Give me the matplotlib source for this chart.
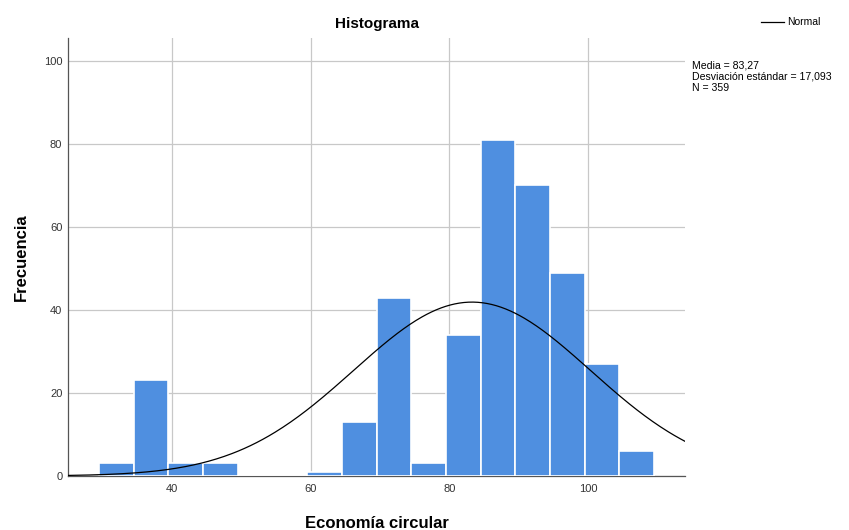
import numpy as np
import matplotlib
matplotlib.use("Agg")
import matplotlib.pyplot as plt

plt.rcParams['font.family'] = ['Liberation Sans', 'DejaVu Sans']

# bin edges (width 5) and counts
bordes = [29.5, 34.5, 39.5, 44.5, 49.5, 54.5, 59.5, 64.5, 69.5, 74.5, 79.5,
          84.5, 89.5, 94.5, 99.5, 104.5, 109.5]
frecuencias = [3, 23, 3, 3, 0, 0, 1, 13, 43, 3, 34, 81, 70, 49, 27, 6]
media = 83.27
desv = 17.093
n_total = 359
ancho = 5

fig = plt.figure(figsize=(8.49, 5.30), dpi=100)
ax = fig.add_axes([0.080, 0.102, 0.727, 0.826])

ax.bar(bordes[:-1], frecuencias, width=ancho, align='edge',
       color='#4f8fe0', edgecolor='white', linewidth=1.2, zorder=3)

xs = np.linspace(25, 114, 400)
ys = n_total * ancho / (desv * np.sqrt(2 * np.pi)) * np.exp(-0.5 * ((xs - media) / desv) ** 2)
ax.plot(xs, ys, color='black', linewidth=0.9, zorder=4, label='Normal')

ax.set_xlim(25, 114)
ax.set_ylim(0, 105.5)
ax.set_xticks([40, 60, 80, 100])
ax.set_yticks([0, 20, 40, 60, 80, 100])
ax.grid(True, color='#c8c8c8', linewidth=0.9, zorder=0)
ax.tick_params(length=0, labelsize=8, colors='#333333')
ax.tick_params(axis='y', pad=4)
ax.tick_params(axis='x', pad=6)
for s in ['top', 'right']:
    ax.spines[s].set_visible(False)
for s in ['left', 'bottom']:
    ax.spines[s].set_color('#555555')
    ax.spines[s].set_linewidth(0.9)

ax.set_title('Histograma', fontsize=11, fontweight='bold', pad=7)
ax.set_xlabel('Economía circular', fontsize=12, fontweight='bold', labelpad=16)
ax.set_ylabel('Frecuencia', fontsize=12, fontweight='bold', labelpad=11)

leg = fig.legend(loc='upper left', bbox_to_anchor=(0.885, 0.985), frameon=False,
                 fontsize=7.5, handlelength=2.2, handletextpad=0.3)
fig.text(0.815, 0.886, f'Media = {media:.2f}'.replace('.', ','), fontsize=7.6, va='top')
fig.text(0.815, 0.865, f'Desviación estándar = {desv:.3f}'.replace('.', ','), fontsize=7.6, va='top')
fig.text(0.815, 0.844, f'N = {n_total}', fontsize=7.6, va='top')

fig.savefig('out.png', dpi=100)
